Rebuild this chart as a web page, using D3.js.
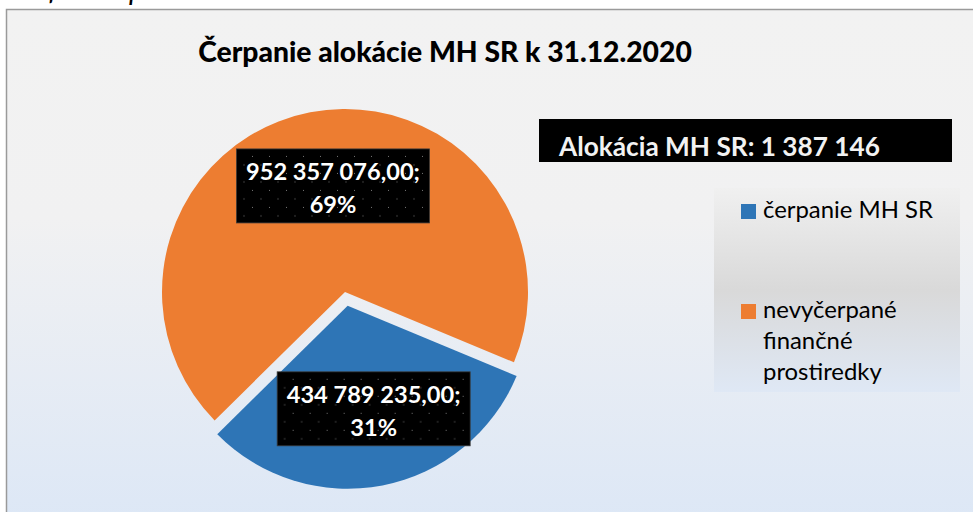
<!DOCTYPE html>
<html>
<head>
<meta charset="utf-8">
<script src="https://cdn.jsdelivr.net/npm/d3@7"></script>
<style>
  body { margin: 0; background: #fff; }
  text { font-family: Lato, "Open Sans", sans-serif; }
</style>
</head>
<body>
<script>
const width = 973
const height = 512

// data
const categories = ['čerpanie MH SR', 'nevyčerpané finančné prostiredky']
const values = [434789235.00, 952357076.00]
const colors = ['#2e75b6', '#ed7d31']
const title = 'Čerpanie alokácie MH SR k 31.12.2020'
const allocationText = 'Alokácia MH SR: 1 387 146'
const legendLines = [['čerpanie MH SR'], ['nevyčerpané', 'finančné', 'prostiredky']]
const caption = 'Graf 6 Čerpanie alokácie MH SR k 31.12.2020'

const sk = d3.formatLocale({decimal: ',', thousands: ' ', grouping: [3], currency: ['', ' €']})
const fmtNum = sk.format(',.2f')
const fmtPct = d3.format('.0%')
const total = d3.sum(values)

const fit = (sel, w) => {
    const l = sel.node().getComputedTextLength()
    sel.attr('font-size', parseFloat(sel.attr('font-size')) * w / l)
}

const svg = d3.select('body').append('svg')
        .attr('width', width)
        .attr('height', height)

const defs = svg.append('defs')
const bg = defs.append('linearGradient').attr('id', 'bg')
        .attr('x1', 0).attr('y1', 0).attr('x2', 0).attr('y2', 1)
bg.append('stop').attr('offset', 0).attr('stop-color', '#f2f2f2')
bg.append('stop').attr('offset', 0.4).attr('stop-color', '#f1f1f2')
bg.append('stop').attr('offset', 1).attr('stop-color', '#dce7f6')

const lg = defs.append('linearGradient').attr('id', 'lg')
        .attr('x1', 0).attr('y1', 0).attr('x2', 0).attr('y2', 1)
lg.append('stop').attr('offset', 0).attr('stop-color', '#f0f0f0')
lg.append('stop').attr('offset', 0.5).attr('stop-color', '#d9d9d9')
lg.append('stop').attr('offset', 1).attr('stop-color', '#dfe8f5')

const pat = defs.append('pattern').attr('id', 'dots')
        .attr('patternUnits', 'userSpaceOnUse')
        .attr('width', 17).attr('height', 17)
pat.append('rect').attr('width', 17).attr('height', 17).attr('fill', '#000')
pat.append('rect').attr('x', 4).attr('y', 4).attr('width', 1).attr('height', 1).attr('fill', '#777')
pat.append('rect').attr('x', 12.5).attr('y', 12.5).attr('width', 1).attr('height', 1).attr('fill', '#777')

// caption of the document above, mostly cut off by the page edge
const cap = svg.append('text')
        .attr('x', 4).attr('y', 0)
        .attr('font-size', 20)
        .attr('font-style', 'italic')
        .attr('fill', '#000')
        .text(caption)
fit(cap, 570)

// chart area
svg.append('rect')
        .attr('x', 6.5).attr('y', 9.5)
        .attr('width', width + 10).attr('height', height + 10)
        .attr('fill', 'url(#bg)')
        .attr('stroke', '#9a9a9a')
        .attr('stroke-width', 1.5)

const t = svg.append('text')
        .attr('x', 445).attr('y', 62)
        .attr('text-anchor', 'middle')
        .attr('font-size', 30)
        .attr('font-weight', 900)
        .attr('fill', '#000')
        .text(title)
fit(t, 494)

// pie
const cx = 345, cy = 292, r = 183, explode = 14
const start = 112.6 * Math.PI / 180
const pie = d3.pie().sort(null).startAngle(start).endAngle(start + 2 * Math.PI)
const arcs = pie(values)
const arc = d3.arc().innerRadius(0).outerRadius(r)
const labelArc = d3.arc().innerRadius(105).outerRadius(105)

const g = svg.append('g').attr('transform', `translate(${cx},${cy})`)

const offset = (d, i) => {
    if (i !== 0) return [0, 0]
    const a = (d.startAngle + d.endAngle) / 2
    return [Math.sin(a) * explode, -Math.cos(a) * explode]
}

g.selectAll('path.slice')
        .data(arcs)
        .join('path')
        .attr('class', 'slice')
        .attr('d', arc)
        .attr('fill', (d, i) => colors[i])
        .attr('transform', (d, i) => 'translate(' + offset(d, i) + ')')

const labelNudge = [[6, 0], [8, -3]]
const lab = g.selectAll('g.label')
        .data(arcs)
        .join('g')
        .attr('class', 'label')
        .attr('transform', (d, i) => {
            const c = labelArc.centroid(d)
            const o = offset(d, i)
            return `translate(${c[0] + o[0] + labelNudge[i][0]},${c[1] + o[1] + labelNudge[i][1]})`
        })

lab.append('rect')
        .attr('x', -96.5).attr('y', -37)
        .attr('width', 193).attr('height', 74)
        .attr('fill', 'url(#dots)')
        .attr('stroke', '#3a3a3a')
        .attr('stroke-width', 0.8)

lab.append('text')
        .attr('class', 'l1')
        .attr('text-anchor', 'middle')
        .attr('y', -6)
        .attr('font-size', 23)
        .attr('font-weight', 'bold')
        .attr('fill', '#fff')
        .text(d => fmtNum(d.data) + ';')
        .each(function () { fit(d3.select(this), 174) })

lab.append('text')
        .attr('text-anchor', 'middle')
        .attr('y', 27)
        .attr('font-size', 23)
        .attr('font-weight', 'bold')
        .attr('fill', '#fff')
        .text(d => fmtPct(d.data / total))
        .attr('font-size', function () { return d3.select(this.parentNode).select('.l1').attr('font-size') })

// allocation box
svg.append('rect')
        .attr('x', 539).attr('y', 119)
        .attr('width', 413).attr('height', 43)
        .attr('fill', '#000')
const al = svg.append('text')
        .attr('x', 559).attr('y', 156)
        .attr('font-size', 24)
        .attr('font-weight', 'bold')
        .attr('fill', '#f2f2f2')
        .text(allocationText)
fit(al, 321)

// legend
svg.append('rect')
        .attr('x', 714).attr('y', 188)
        .attr('width', 246).attr('height', 204)
        .attr('fill', 'url(#lg)')

const legendTop = [204, 304]
const item = svg.selectAll('g.legend')
        .data(categories)
        .join('g')
        .attr('class', 'legend')
        .attr('transform', (d, i) => `translate(741,${legendTop[i]})`)

item.append('rect')
        .attr('width', 15).attr('height', 15)
        .attr('fill', (d, i) => colors[i])

// size the legend font so the first entry matches its width in the reference
const probe = svg.append('text').attr('font-size', 20).text(legendLines[0][0])
fit(probe, 170)
const legendSize = probe.attr('font-size')
probe.remove()

item.each(function (d, i) {
    const tx = d3.select(this).append('text')
            .attr('font-size', legendSize)
            .attr('fill', '#000')
    tx.selectAll('tspan')
            .data(legendLines[i])
            .join('tspan')
            .attr('x', 22)
            .attr('y', (l, j) => 14 + j * 31)
            .text(l => l)
})
</script>
</body>
</html>
